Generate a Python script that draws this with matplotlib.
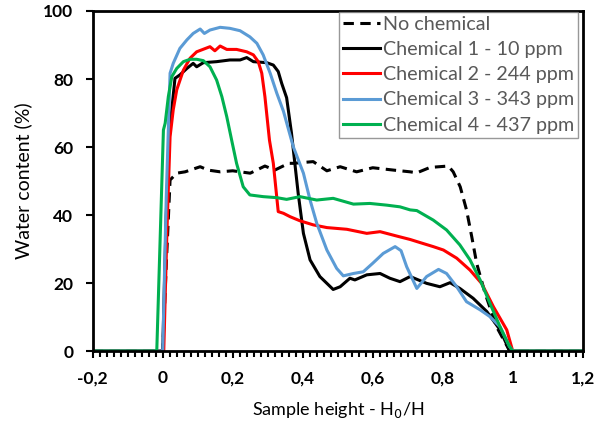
import matplotlib
matplotlib.use("Agg")
import matplotlib.pyplot as plt
from matplotlib.ticker import FuncFormatter, MultipleLocator

plt.rcParams['font.family'] = ['Lato', 'DejaVu Sans']

labels = ["No chemical", "Chemical 1 - 10 ppm", "Chemical 2 - 244 ppm",
          "Chemical 3 - 343 ppm", "Chemical 4 - 437 ppm"]
colors = ["black", "black", "#ff0000", "#5b9bd5", "#00b050"]

x0 = [-0.2, 0.0, 0.01, 0.021, 0.04, 0.064, 0.107, 0.13, 0.164, 0.2, 0.25, 0.292, 0.32, 0.36,
      0.373, 0.43, 0.469, 0.507, 0.554, 0.60, 0.66, 0.707, 0.726, 0.764, 0.816, 0.83, 0.85,
      0.868, 0.883, 0.897, 0.921, 0.954, 0.99, 1.0, 1.2]
y0 = [0, 0, 25, 50.3, 52.3, 52.7, 54.2, 53.2, 52.7, 53, 52.3, 54.4, 53.2, 55.2,
      55.2, 55.7, 53, 54.2, 52.7, 53.9, 53.2, 52.7, 52.4, 54, 54.4, 52.7, 48.3,
      41.5, 33.6, 25.8, 17, 7.1, 0.3, 0, 0]

x1 = [-0.2, 0.0, 0.01, 0.02, 0.035, 0.049, 0.069, 0.087, 0.097, 0.116, 0.154, 0.192, 0.221,
      0.24, 0.259, 0.297, 0.316, 0.33, 0.34, 0.354, 0.368, 0.387, 0.402, 0.421, 0.449,
      0.487, 0.507, 0.535, 0.549, 0.583, 0.621, 0.649, 0.678, 0.707, 0.754, 0.792, 0.821,
      0.849, 0.887, 0.926, 0.964, 0.99, 1.0, 1.2]
y1 = [0, 0, 40, 65, 80.2, 81.2, 83.1, 84.6, 83.6, 84.8, 85.1, 85.6, 85.6,
      86.3, 85.1, 84.8, 84.1, 82.2, 78.7, 74.5, 64, 46.4, 34.6, 26.8, 21.9,
      18.1, 18.9, 21.4, 20.9, 22.4, 22.8, 21.4, 20.4, 21.9, 19.9, 18.9, 20.1,
      18.4, 15.5, 11.6, 6.2, 0.3, 0, 0]

x2 = [-0.2, 0.003, 0.012, 0.021, 0.03, 0.04, 0.059, 0.078, 0.097, 0.135, 0.149, 0.164, 0.183,
      0.211, 0.24, 0.259, 0.273, 0.283, 0.292, 0.299, 0.305, 0.316, 0.33, 0.345, 0.364,
      0.392, 0.43, 0.469, 0.526, 0.583, 0.621, 0.669, 0.707, 0.735, 0.773, 0.802, 0.84,
      0.878, 0.911, 0.945, 0.983, 1.0, 1.2]
y2 = [0, 0, 35, 63, 70.9, 76.8, 82.6, 86.1, 88, 89.5, 88.3, 89.7, 88.7,
      88.7, 88, 87.1, 85.1, 81.7, 74.8, 67.9, 62, 55.2, 41, 40.5, 39.5,
      38.3, 37.1, 36.3, 35.8, 34.6, 35.1, 33.8, 32.8, 31.9, 30.7, 29.7, 27.3,
      23.8, 19.9, 13, 6.2, 0, 0]

x3 = [-0.2, 0.0, 0.01, 0.021, 0.03, 0.049, 0.069, 0.087, 0.107, 0.119, 0.135, 0.164, 0.192,
      0.221, 0.249, 0.269, 0.287, 0.307, 0.326, 0.345, 0.373, 0.402, 0.421, 0.44, 0.469,
      0.497, 0.516, 0.545, 0.573, 0.60, 0.63, 0.664, 0.681, 0.697, 0.726, 0.754, 0.788,
      0.811, 0.84, 0.868, 0.907, 0.935, 0.964, 0.99, 1.0, 1.2]
y3 = [0, 0, 45, 81.7, 84.6, 89, 91.5, 93.4, 94.7, 93.4, 94.4, 95.2, 94.9,
      94.2, 92.4, 90.5, 87.1, 81.7, 75.8, 70.5, 60.1, 52.3, 44.4, 37.6, 29.7,
      24.3, 22.1, 22.8, 23.3, 25.8, 28.7, 30.7, 29.5, 24.8, 18.4, 21.9, 24,
      22.8, 18.9, 14.5, 12.1, 10.1, 7.1, 1.5, 0, 0]

x4 = [-0.2, -0.017, 0.002, 0.007, 0.016, 0.026, 0.04, 0.059, 0.078, 0.097, 0.116, 0.135,
      0.154, 0.169, 0.183, 0.197, 0.211, 0.23, 0.249, 0.287, 0.326, 0.354, 0.392, 0.44,
      0.487, 0.545, 0.592, 0.64, 0.678, 0.707, 0.726, 0.773, 0.811, 0.849, 0.878, 0.907,
      0.935, 0.964, 0.99, 1.0, 1.2]
y4 = [0, 0, 65, 67, 74.8, 80.7, 83.1, 85.1, 85.8, 85.8, 85.4, 83.6,
      79.7, 74.8, 68.9, 62, 55.2, 48.3, 45.9, 45.4, 45.1, 44.6, 45.4, 44.4,
      44.9, 43.2, 43.4, 42.9, 42.4, 41.5, 41.3, 38.5, 35.6, 31.2, 26.8, 20.9,
      14, 7.1, 1.5, 0, 0]

xs = [x0, x1, x2, x3, x4]
ys = [y0, y1, y2, y3, y4]

x_ticks = [-0.2, 0, 0.2, 0.4, 0.6, 0.8, 1.0, 1.2]
y_ticks = [0, 20, 40, 60, 80, 100]

fig = plt.figure(figsize=(5.99, 4.28), dpi=100)
ax = fig.add_axes([0.1548, 0.1799, 0.818, 0.7944])

for i, (x, y) in enumerate(zip(xs, ys)):
    ls = (0, (3.4, 2.1)) if i == 0 else '-'
    ax.plot(x, y, color=colors[i], lw=2.2, ls=ls, label=labels[i],
            solid_joinstyle='round', dash_capstyle='butt')

ax.set_xlim(-0.2, 1.2)
ax.set_ylim(0, 100)
ax.set_xticks(x_ticks)
ax.set_yticks(y_ticks)
ax.xaxis.set_minor_locator(MultipleLocator(0.02))

def fmt(v, pos):
    s = f"{v:.1f}".rstrip('0').rstrip('.')
    if s == "-0":
        s = "0"
    return s.replace('.', ',')

ax.xaxis.set_major_formatter(FuncFormatter(fmt))
for sp in ax.spines.values():
    sp.set_linewidth(2)
    sp.set_color('black')
ax.tick_params(axis='x', which='major', length=5, width=1.5, direction='out', pad=9)
ax.tick_params(axis='x', which='minor', length=4, width=1.5, direction='out')
ax.tick_params(axis='y', which='major', length=5, width=1.5, direction='out', pad=9)
for lab in ax.get_xticklabels() + ax.get_yticklabels():
    lab.set_fontweight('bold')
    lab.set_fontsize(12.5)
    lab.set_color('black')

ax.set_xlabel("Sample height - H$_0$/H", fontsize=13, color='black', labelpad=10)
ax.set_ylabel("Water content (%)", fontsize=14, color='black', labelpad=8)

leg = ax.legend(loc='upper right', bbox_to_anchor=(0.9904, 0.998), fontsize=14.2,
                frameon=True, fancybox=False, handlelength=1.85, handletextpad=0.15,
                borderpad=0.2, labelspacing=0.42, borderaxespad=0.0)
leg.get_frame().set_edgecolor('#7f7f7f')
leg.get_frame().set_linewidth(1.0)
for t in leg.get_texts():
    t.set_color('#595959')

fig.savefig("out.png", dpi=100)
